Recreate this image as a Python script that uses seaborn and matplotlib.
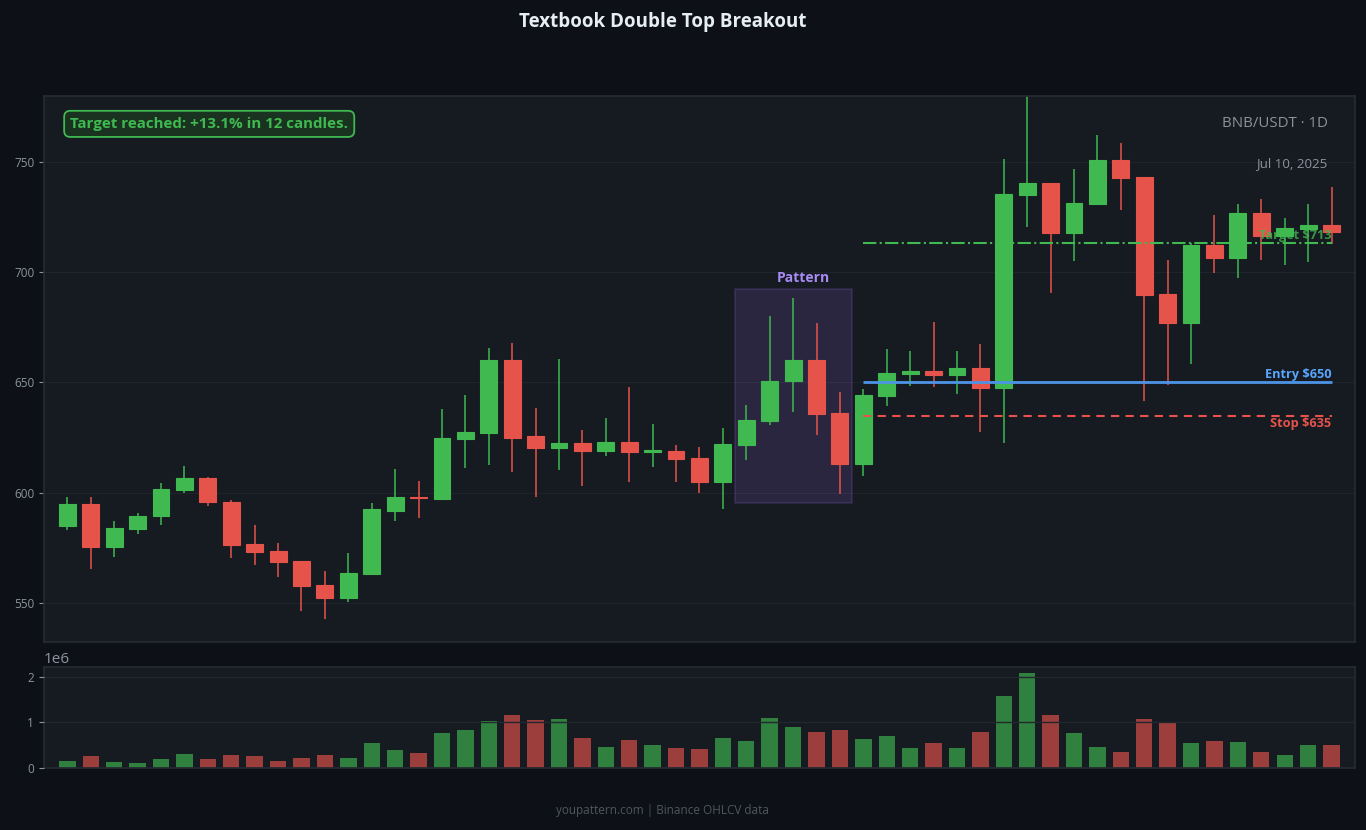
import numpy as np
import pandas as pd
import matplotlib
matplotlib.use("Agg")
import matplotlib.pyplot as plt
from matplotlib.patches import Rectangle
from matplotlib.ticker import MultipleLocator
import seaborn as sns

# OHLCV (BNB/USDT daily)
opens = [585, 595, 575.5, 583.6, 589.5, 601.4, 606.8, 595.9, 576.8, 573.6,
         569.1, 558.2, 552.3, 563.2, 591.8, 598.3, 597.3, 624.5, 627.3, 660,
         625.9, 620.5, 622.7, 619.1, 623.2, 618.6, 619.1, 616, 605, 621.8,
         632.7, 650.5, 660, 636.4, 613.2, 644.1, 653.9, 655, 653.5, 656.4,
         647.7, 735, 740.5, 717.6, 730.9, 750.9, 743.2, 690, 676.8, 712.3,
         706.4, 726.8, 716.4, 719.5, 721.4]
highs = [598.3, 598, 587.4, 591, 604.7, 612.4, 607.3, 597, 585.6, 577.4,
         569.1, 564.7, 572.9, 595.5, 611, 605.6, 638, 644.2, 665.6, 667.9,
         638.3, 660.6, 628.3, 633.8, 647.9, 631, 621.5, 620.9, 629.2, 639.7,
         680.1, 688.3, 677, 645.6, 647, 665.1, 664.2, 677.4, 664.2, 667.4,
         751, 782, 740.5, 746.5, 762, 758.3, 743.2, 705.6, 713.2, 726,
         730.6, 732.9, 724.7, 730.6, 738.3]
lows = [583, 565.6, 571, 581.6, 585.3, 599.8, 593.9, 570.7, 567.4, 562.1,
        546.6, 542.9, 550.7, 563, 587.5, 588.7, 597, 611.2, 612.5, 609.4,
        598, 610.3, 603, 616.6, 605, 611.6, 605, 600, 592.5, 614.8,
        630.7, 636.6, 626.2, 599.4, 607.6, 639.4, 648.5, 648, 644.8, 627.5,
        622.5, 720.3, 690.3, 705.1, 730.3, 728, 641.6, 648.9, 658.5, 699.4,
        697.1, 705.3, 703, 704.4, 712.5]
closes = [595, 575.5, 584, 589.5, 601.8, 606.8, 595.9, 576.4, 573.2, 568.6,
          557.7, 552.3, 563.6, 592.7, 598.2, 597.5, 625, 627.7, 660, 625,
          620.5, 622.7, 619.1, 623.2, 618.6, 619.5, 615.5, 605.1, 622.3, 633.2,
          650.9, 660, 635.9, 613.2, 644.5, 654.5, 655, 653.5, 656.4, 647.7,
          735.5, 740.5, 717.6, 731.4, 750.9, 742.7, 689.5, 676.8, 712.3, 706.4,
          726.8, 716.4, 720, 721.4, 718.2]
volumes_m = [0.146, 0.255, 0.124, 0.102, 0.19, 0.30, 0.19, 0.277, 0.255, 0.146,
             0.212, 0.277, 0.212, 0.54, 0.387, 0.321, 0.78, 0.825, 1.022, 1.175,
             1.044, 1.066, 0.65, 0.453, 0.606, 0.496, 0.43, 0.409, 0.65, 0.584,
             1.088, 0.912, 0.781, 0.825, 0.628, 0.693, 0.43, 0.54, 0.43, 0.781,
             1.591, 2.095, 1.175, 0.759, 0.453, 0.343, 1.066, 1.0, 0.54, 0.584,
             0.562, 0.343, 0.277, 0.496, 0.496]

entry_price = 650
stop_price = 635
target_price = 713
pattern_start, pattern_end = 28.5, 33.5
pattern_low, pattern_high = 595.6, 692.5
breakout_idx = 34

BG = "#0d1017"
PANEL = "#161a21"
GREEN = "#3fb950"
RED = "#e5534b"
BLUE = "#4d94e6"
MUTED = "#8b949e"

df = pd.DataFrame({"open": opens, "high": highs, "low": lows,
                   "close": closes, "volume": np.array(volumes_m) * 1e6})
df["idx"] = np.arange(len(df))
df["dir"] = np.where(df["close"] >= df["open"], "up", "down")

sns.set_theme(style="dark", rc={
    "figure.facecolor": BG,
    "axes.facecolor": PANEL,
    "axes.edgecolor": "#262b33",
    "axes.grid": True,
    "grid.color": "#1f242c",
    "grid.linewidth": 0.8,
    "xtick.color": MUTED,
    "ytick.color": MUTED,
    "text.color": MUTED,
})
plt.rcParams["font.family"] = ["Open Sans", "DejaVu Sans"]

fig = plt.figure(figsize=(13.66, 8.3), dpi=100)
ax = fig.add_axes([0.0322, 0.2265, 0.9597, 0.6578])
axv = fig.add_axes([0.0322, 0.0747, 0.9597, 0.1217])

# candles
colors = np.where(df["dir"] == "up", GREEN, RED)
ax.vlines(df["idx"], df["low"], df["high"], colors=colors, lw=1.1, zorder=2)
body_lo = np.minimum(df["open"], df["close"])
body_h = np.maximum(np.abs(df["close"] - df["open"]), 0.6)
ax.bar(df["idx"], body_h, bottom=body_lo, width=0.72, color=colors,
       edgecolor=colors, linewidth=0.8, zorder=3)

# pattern zone
ax.add_patch(Rectangle((pattern_start, pattern_low), pattern_end - pattern_start,
                       pattern_high - pattern_low, facecolor="#a371f7", alpha=0.15,
                       edgecolor="#a371f7", lw=1.5, zorder=1))
ax.text(31.45, pattern_high + 1.8, "Pattern", color="#a98bf5", fontsize=10,
        fontweight="bold", ha="center", va="bottom")

# trade levels
last = len(df) - 1
ax.hlines(target_price, breakout_idx, last, colors=GREEN, lw=1.5, linestyles="-.", zorder=4)
ax.hlines(entry_price, breakout_idx, last, colors=BLUE, lw=2, zorder=4)
ax.hlines(stop_price, breakout_idx, last, colors=RED, lw=1.5, linestyles=(0, (4, 3)), zorder=4)
ax.text(last, target_price + 0.5, f"Target ${target_price}", color=GREEN, fontsize=9.2,
        fontweight="bold", ha="right", va="bottom", alpha=0.8, zorder=5)
ax.text(last, entry_price + 0.8, f"Entry ${entry_price}", color="#58a6ff", fontsize=9.2,
        fontweight="bold", ha="right", va="bottom", zorder=5)
ax.text(last, stop_price - 0.6, f"Stop ${stop_price}", color=RED, fontsize=9.2,
        fontweight="bold", ha="right", va="top", zorder=5)

ax.set_xlim(-1, 55)
ax.set_ylim(532.5, 779.7)
ax.yaxis.set_major_locator(MultipleLocator(50))
ax.set_xticks([])
ax.tick_params(axis="y", labelsize=8.5, length=3.5, width=0.8, left=True)
ax.grid(axis="x", visible=False)
ax.set_axisbelow(True)

ax.text(0.02, 0.949, "Target reached: +13.1% in 12 candles.", transform=ax.transAxes,
        color=GREEN, fontsize=10.9, fontweight="bold", ha="left", va="center",
        bbox=dict(boxstyle="round,pad=0.4,rounding_size=0.4", fc="#1a3320", ec=GREEN, lw=1.3))
ax.text(0.979, 0.949, "BNB/USDT · 1D", transform=ax.transAxes, color=MUTED,
        fontsize=10.8, ha="right", va="center")
ax.text(0.979, 0.877, "Jul 10, 2025", transform=ax.transAxes, color=MUTED,
        fontsize=9.6, ha="right", va="center")

# volume
sns.barplot(data=df, x="idx", y="volume", hue="dir", palette={"up": GREEN, "down": RED},
            native_scale=True, dodge=False, width=0.7, alpha=0.65, saturation=1,
            linewidth=0, edgecolor="none", legend=False, ax=axv)
axv.set_xlim(-1, 55)
axv.set_ylim(0, 2.22e6)
axv.yaxis.set_major_locator(MultipleLocator(1e6))
axv.set_xticks([])
axv.set_xlabel("")
axv.set_ylabel("")
axv.grid(axis="x", visible=False)
axv.grid(axis="y", color="#22272f", lw=1)
axv.set_axisbelow(False)
axv.tick_params(axis="y", labelsize=8.5, length=3.5, width=0.8, left=True)
axv.yaxis.get_offset_text().set_fontsize(11)
axv.yaxis.get_offset_text().set_color(MUTED)

for a in (ax, axv):
    for s in a.spines.values():
        s.set_color("#262b33")

fig.text(0.485, 0.974, "Textbook Double Top Breakout", color="#e6edf3", fontsize=13.5,
         fontweight="bold", ha="center", va="center")
fig.text(0.485, 0.024, "youpattern.com | Binance OHLCV data", color="#4f5660",
         fontsize=8.5, ha="center", va="center")

fig.savefig("out.png", dpi=100, facecolor=BG)
